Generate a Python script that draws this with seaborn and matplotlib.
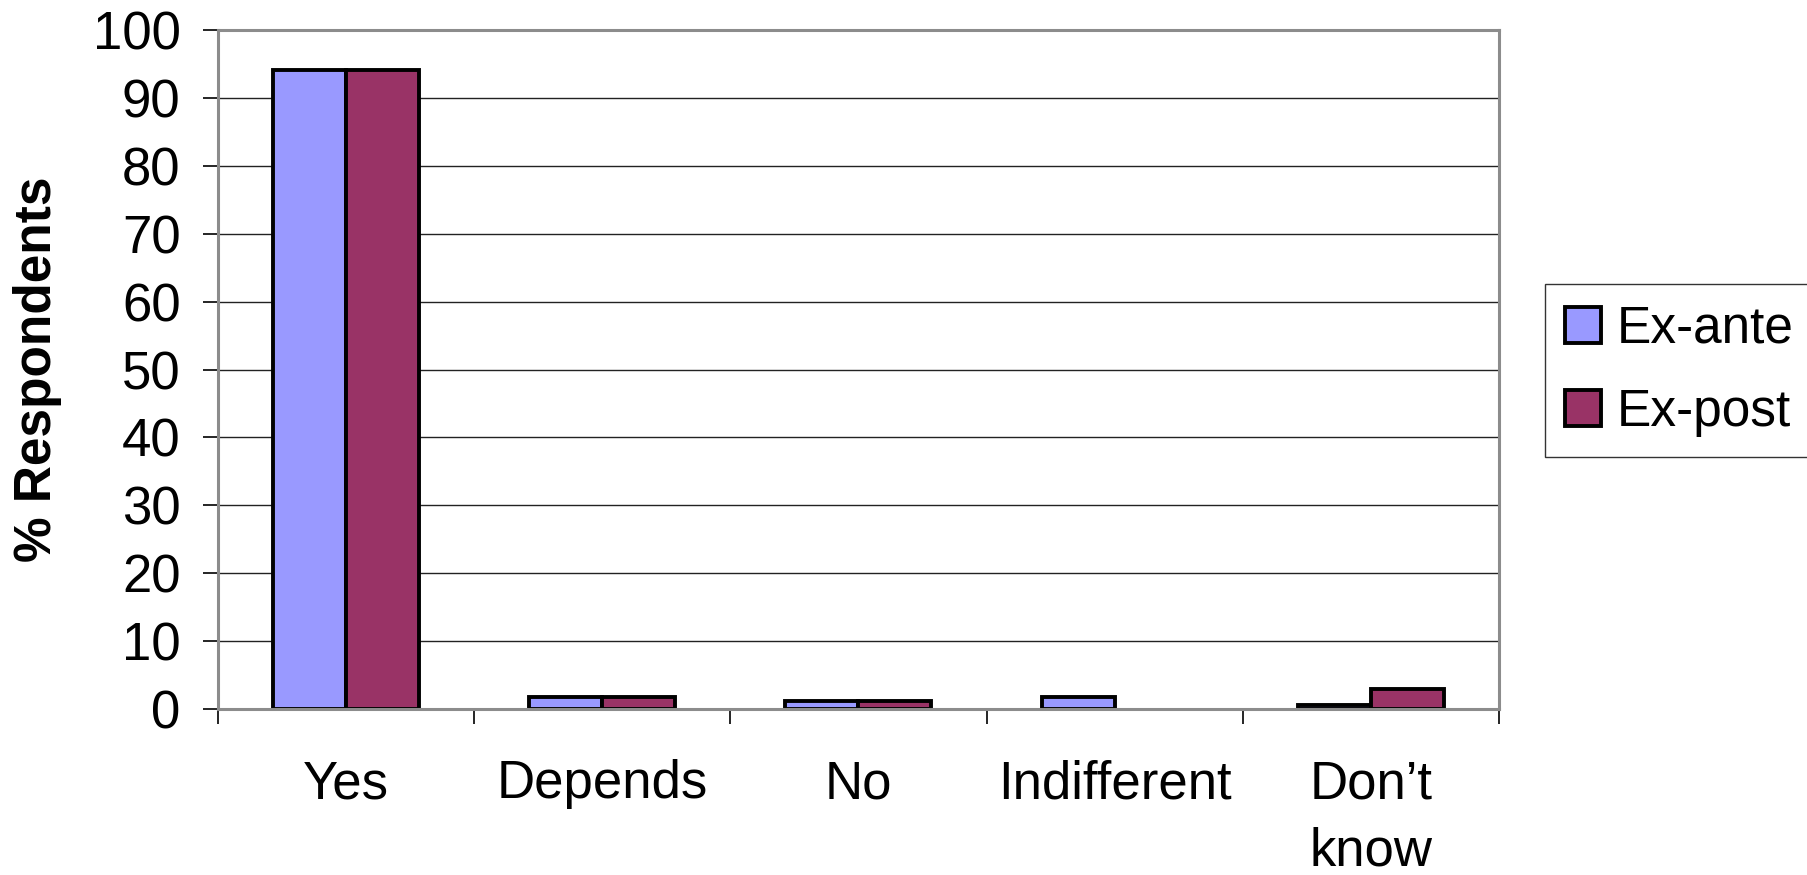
import matplotlib
matplotlib.use("Agg")
import matplotlib.pyplot as plt
import seaborn as sns
import pandas as pd
import numpy as np

# Survey answers and share of respondents (%)
categories = ["Yes", "Depends", "No", "Indifferent", "Don\u2019t\nknow"]
ex_ante = [94.1, 1.8, 1.2, 1.8, 0.6]
ex_post = [94.1, 1.8, 1.2, 0.0, 2.9]
series_names = ["Ex-ante", "Ex-post"]
y_ticks = list(range(0, 101, 10))

df = pd.DataFrame({
    "answer": categories * 2,
    "share": ex_ante + ex_post,
    "series": [series_names[0]] * len(categories) + [series_names[1]] * len(categories),
})

sns.set_style("white")
plt.rcParams["font.family"] = ["Liberation Sans", "DejaVu Sans"]
plt.rcParams["text.color"] = "black"
plt.rcParams["axes.labelcolor"] = "black"
plt.rcParams["xtick.color"] = "black"
plt.rcParams["ytick.color"] = "black"

fig = plt.figure(figsize=(18.08, 8.75), dpi=100)
ax = fig.add_axes([0.1206, 0.1897, 0.829 - 0.1206, 0.9657 - 0.1897])

sns.barplot(data=df, x="answer", y="share", hue="series", order=categories,
            hue_order=series_names, palette=["#9999FF", "#993366"],
            width=0.57, gap=0, edgecolor="black", linewidth=2.8,
            saturation=1, ax=ax, legend=True)

# empty bars get no outline
for p in ax.patches:
    if p.get_height() == 0:
        p.set_linewidth(0)

ax.set_ylim(0, 100)
ax.set_xlim(-0.5, len(categories) - 0.5)
ax.set_yticks(y_ticks)
ax.yaxis.grid(True, color="#222222", linewidth=1.0)
ax.set_axisbelow(True)

# Spines: grey frame around the plot area
for side in ["left", "top", "right", "bottom"]:
    ax.spines[side].set_visible(True)
    ax.spines[side].set_color("#8c8c8c")
    ax.spines[side].set_linewidth(2.2)

ax.tick_params(axis="y", which="major", direction="out", length=11, width=1.2,
               color="black", labelsize=38, pad=16, left=True)
ax.tick_params(axis="x", which="major", length=0, labelsize=38, pad=36)
for lbl in ax.get_xticklabels():
    lbl.set_linespacing(1.45)
ax.set_xticks(np.arange(-0.5, len(categories), 1.0), minor=True)
ax.tick_params(axis="x", which="minor", direction="out", length=11, width=1.2,
               color="black", bottom=True)

ax.set_xlabel("")
ax.set_ylabel("% Respondents", fontsize=37, fontweight="bold")
ax.yaxis.set_label_coords(-0.122, 0.5)

leg = ax.legend(loc="center left", bbox_to_anchor=(1.036, 0.498), frameon=True,
                fontsize=37, fancybox=False, edgecolor="black",
                handlelength=0.7, handleheight=0.7, handletextpad=0.3,
                borderpad=0.4, labelspacing=0.66, borderaxespad=0)
leg.get_frame().set_linewidth(1.0)
for h in leg.legend_handles:
    h.set_edgecolor("black")
    h.set_linewidth(2.8)

fig.savefig("out.png", dpi=100, facecolor="white")
